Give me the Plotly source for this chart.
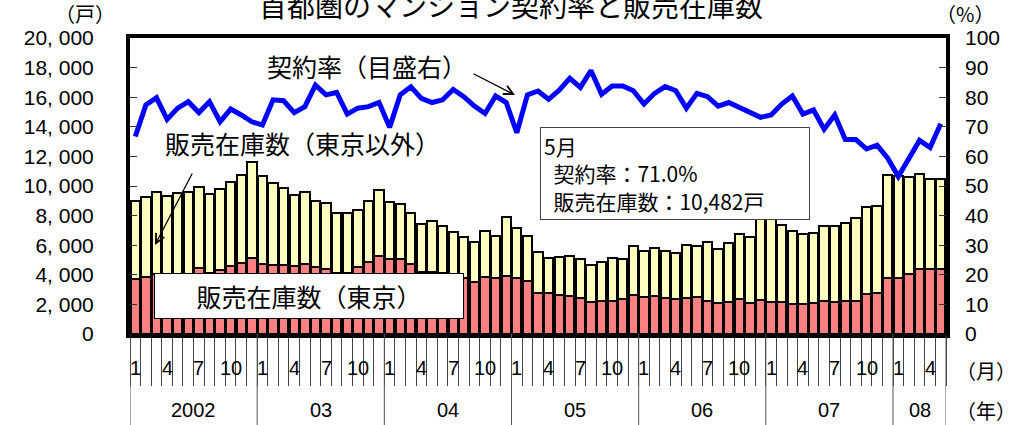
"""首都圏のマンション契約率と販売在庫数 — 棒(在庫)+折れ線(契約率)の2軸チャート."""

import plotly.graph_objects as go

# ---- data ----
TITLE = "首都圏のマンション契約率と販売在庫数"
YEARS = ["2002", "03", "04", "05", "06", "07", "08"]
MONTHS_IN_YEAR = [12, 12, 12, 12, 12, 12, 5]
MONTH_LABELS = [1, 4, 7, 10]

# 販売在庫数（東京）戸
tokyo = [
    3750, 3830, 4030, 3870, 3920, 3920, 4440, 4100, 4320, 4590, 4780, 5160,
    4730, 4660, 4660, 4590, 4730, 4500, 4370, 4140, 4140, 4500, 4840, 5270,
    5090, 5050, 4710, 4210, 4210, 4100, 3920, 3760, 3540, 3870, 3800, 3940,
    3800, 3600, 2800, 2750, 2630, 2590, 2410, 2180, 2250, 2250, 2340, 2630,
    2520, 2590, 2410, 2340, 2410, 2520, 2250, 2110, 2140, 2340, 2070, 2290,
    2180, 2180, 2000, 2020, 2070, 2230, 2180, 2250, 2250, 2680, 2750, 3760,
    3800, 4030, 4410, 4410, 4370,
]
# 販売在庫数（東京以外）戸
outside = [
    5260, 5450, 5590, 5460, 5580, 5650, 5470, 5340, 5480, 5660, 5970, 6440,
    5950, 5520, 5230, 4800, 4890, 4480, 4460, 4060, 4040, 3880, 4170, 4440,
    3850, 3730, 3440, 3220, 3450, 3200, 3000, 2820, 2700, 3070, 2820, 3940,
    3350, 3040, 2720, 2360, 2600, 2680, 2680, 2460, 2590, 2910, 2750, 3320,
    3110, 3200, 3200, 3110, 3600, 3400, 3990, 3630, 3990, 4420, 4460, 5860,
    5570, 5180, 4980, 4740, 4730, 5070, 5120, 5230, 5610, 5880, 5900, 6990,
    6880, 6600, 6380, 6070, 6112,
]
# 契約率 %
rate = [
    66.7, 77.4, 79.8, 72.5, 76.3, 78.5, 74.8, 78.5, 71.7, 76.0, 74.0, 71.7,
    70.6, 79.1, 78.8, 74.8, 76.8, 84.1, 80.8, 81.6, 74.3, 76.3, 76.8, 78.2,
    69.8, 80.8, 83.5, 79.6, 78.2, 79.1, 82.6, 80.2, 77.0, 74.5, 80.4, 78.2,
    68.0, 80.8, 82.1, 79.3, 82.4, 86.4, 83.3, 89.0, 81.0, 83.8, 83.8, 82.2,
    77.7, 81.3, 83.6, 82.2, 76.3, 81.3, 80.2, 77.0, 78.2, 76.6, 74.8, 73.2,
    74.0, 77.7, 80.4, 74.3, 75.7, 69.2, 74.0, 65.7, 65.7, 62.5, 63.8, 59.4,
    53.2, 59.4, 65.4, 63.0, 71.0,
]
LEFT_TICKS = list(range(0, 20001, 2000))
RIGHT_TICKS = list(range(0, 101, 10))

# ---- style ----
W, H = 1026, 425
L, R, T, B = 130, 80, 38, 91
PW, PH = W - L - R, H - T - B
JP = "'Noto Sans CJK JP', 'Noto Sans', sans-serif"
NUM = "'Liberation Sans', Arial, sans-serif"
RED = "#FF8080"
YEL = "#FFFFC0"
BLUE = "#0000FF"


def px(xp):
    return (xp - L) / PW


def py(yp):
    return (H - B - yp) / PH


# 月番号と年
month_of, year_start = [], []
pos = 0
for n in MONTHS_IN_YEAR:
    year_start.append(pos)
    month_of += list(range(1, n + 1))
    pos += n
x = list(range(1, len(month_of) + 1))

fig = go.Figure()
fig.add_bar(
    x=x, y=tokyo, name="販売在庫数（東京）",
    marker=dict(color=RED, line=dict(color="black", width=2)),
)
fig.add_bar(
    x=x, y=outside, name="販売在庫数（東京以外）",
    marker=dict(color=YEL, line=dict(color="black", width=2)),
)
fig.add_scatter(
    x=x, y=rate, yaxis="y2", mode="lines", name="契約率",
    line=dict(color=BLUE, width=5),
)

ann = []
# タイトル・単位
ann.append(dict(text=TITLE, x=px(511), y=py(5), font=dict(size=28, family=JP)))
ann.append(dict(text="（戸）", x=px(85), y=py(14), font=dict(size=20, family=JP)))
ann.append(dict(text="（%）", x=px(965), y=py(13), font=dict(size=20, family=JP)))
ann.append(dict(text="（月）", x=px(986), y=py(370), font=dict(size=20, family=JP)))
ann.append(dict(text="（年）", x=px(986), y=py(410), font=dict(size=20, family=JP)))

# 系列ラベル
ann.append(dict(text="契約率（目盛右）", x=px(367), y=py(66), font=dict(size=25, family=JP)))
ann.append(dict(text="販売在庫数（東京以外）", x=px(302), y=py(143), font=dict(size=25, family=JP)))
ann.append(dict(
    text="販売在庫数（東京）", x=px(309), y=py(296), font=dict(size=25, family=JP),
    bgcolor="white", bordercolor="black", borderwidth=1, width=306, height=42,
))
ann.append(dict(
    text="5月<br>\u00a0\u00a0契約率：71.0%<br>\u00a0\u00a0販売在庫数：10,482戸",
    x=px(540), y=py(127), xanchor="left", yanchor="top", align="left",
    font=dict(size=21, family=JP), bgcolor="white", bordercolor="#444",
    borderwidth=1, borderpad=3, width=262,
))

# 矢印
ann.append(dict(text="", x=px(515), y=py(95), ax=-43, ay=-22, showarrow=True,
                arrowhead=5, arrowsize=1.4, arrowwidth=1.3, arrowcolor="black"))
ann.append(dict(text="", x=px(155), y=py(245), ax=38, ay=-73, showarrow=True,
                arrowhead=5, arrowsize=1.4, arrowwidth=1.3, arrowcolor="black"))

# 月ラベル
for i, m in enumerate(month_of):
    if m in MONTH_LABELS:
        ann.append(dict(text=str(m), x=x[i], xref="x", y=py(368),
                        font=dict(size=20, family=NUM)))

# 年ラベルと区切り線
shapes = []
for yr, s, n in zip(YEARS, year_start, MONTHS_IN_YEAR):
    ann.append(dict(text=yr, x=(x[s] + x[s + n - 1]) / 2, xref="x", y=py(410),
                    font=dict(size=20, family=NUM)))
    shapes.append(dict(type="line", xref="x", yref="paper", x0=x[s] - 0.5, x1=x[s] - 0.5,
                       y0=0, y1=py(H), line=dict(color="#555", width=1)))
shapes.append(dict(type="line", xref="x", yref="paper", x0=x[-1] + 0.5, x1=x[-1] + 0.5,
                   y0=0, y1=py(H), line=dict(color="#555", width=1)))

for a in ann:
    a.setdefault("xref", "paper")
    a.setdefault("yref", "paper")
    a.setdefault("showarrow", False)
    a.setdefault("xanchor", "center")
    a.setdefault("yanchor", "middle")
    if "font" in a:
        a["font"].setdefault("color", "black")

fig.update_layout(
    width=W, height=H,
    margin=dict(l=L, r=R, t=T, b=B, pad=0),
    paper_bgcolor="white", plot_bgcolor="white",
    barmode="stack", bargap=0.12,
    showlegend=False,
    font=dict(family=NUM, color="black"),
    xaxis=dict(
        range=[0.5, len(x) + 0.5],
        tickvals=[v - 0.5 for v in x] + [len(x) + 0.5],
        ticks="outside", ticklen=48, tickwidth=1, tickcolor="#444",
        showticklabels=False, showgrid=False, zeroline=False,
        showline=True, linewidth=4, linecolor="black", mirror=True,
    ),
    yaxis=dict(
        range=[0, 20000], tickvals=LEFT_TICKS,
        ticktext=[f"{v:,}".replace(",", ", ") for v in LEFT_TICKS],
        ticks="inside", ticklen=7, tickwidth=1, tickcolor="#333",
        tickfont=dict(size=21, family=NUM), ticklabelstandoff=28,
        showgrid=False, zeroline=False,
        showline=True, linewidth=4, linecolor="black", mirror=True,
    ),
    yaxis2=dict(
        range=[0, 100], tickvals=RIGHT_TICKS, overlaying="y", side="right",
        ticks="inside", ticklen=7, tickwidth=1, tickcolor="#333",
        tickfont=dict(size=21, family=NUM), ticklabelstandoff=18,
        showgrid=False, zeroline=False, showline=False,
    ),
    annotations=ann,
    shapes=shapes,
)

fig.write_html(
    "out.html",
    config={"displayModeBar": False},
    post_script="document.body.style.margin='0';",
)
